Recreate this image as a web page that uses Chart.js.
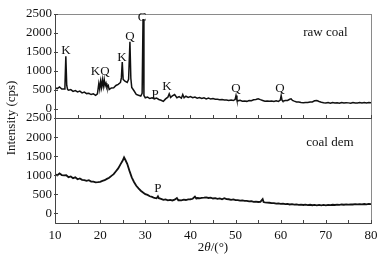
<!DOCTYPE html>
<html>
<head>
<meta charset="utf-8">
<script src="https://cdn.jsdelivr.net/npm/chart.js@4.4.0/dist/chart.umd.min.js"></script>
<style>
  body { margin: 0; background: #fff; }
  #wrap { position: relative; width: 386px; height: 260px; }
  canvas { position: absolute; left: 0; top: 0; }
</style>
</head>
<body>
<div id="wrap">
  <canvas id="demChart" width="386" height="260"></canvas>
  <canvas id="rawChart" width="386" height="260"></canvas>
</div>
<script>
// raw coal pattern (2 theta in degrees, intensity in cps)
const rawAngle = [
  10.0, 10.5, 11.0, 11.5, 12.0, 12.2, 12.4, 12.6, 12.8, 13.0, 13.5, 14.0, 14.5, 15.0, 15.5, 16.0,
  16.5, 17.0, 17.5, 18.0, 18.5, 19.0, 19.4, 19.7, 19.9, 20.1, 20.3, 20.5, 20.7, 20.9, 21.1, 21.3,
  21.5, 21.8, 22.0, 22.5, 23.0, 23.5, 24.0, 24.5, 24.7, 24.9, 25.1, 25.5, 26.0, 26.3, 26.6, 26.8,
  27.0, 27.5, 28.0, 28.5, 29.0, 29.3, 29.5, 29.7, 30.0, 30.5, 31.0, 31.5, 32.0, 32.5, 33.0, 33.5,
  34.0, 34.5, 35.0, 35.3, 35.6, 36.0, 36.5, 37.0, 37.5, 38.0, 38.3, 38.6, 39.0, 39.5, 40.0, 40.5,
  41.0, 41.5, 42.0, 42.5, 43.0, 43.5, 44.0, 44.5, 45.0, 45.5, 46.0, 46.5, 47.0, 47.5, 48.0, 48.5,
  49.0, 49.5, 49.9, 50.1, 50.3, 50.5, 51.0, 51.5, 52.0, 52.5, 53.0, 53.5, 54.0, 54.5, 55.0, 55.5,
  56.0, 56.5, 57.0, 57.5, 58.0, 58.5, 59.0, 59.5, 59.9, 60.1, 60.3, 60.5, 61.0, 61.5, 62.0, 62.3,
  62.6, 63.0, 63.5, 64.0, 64.5, 65.0, 65.5, 66.0, 66.5, 67.0, 67.5, 68.0, 68.5, 69.0, 69.5, 70.0,
  70.5, 71.0, 71.5, 72.0, 72.5, 73.0, 73.5, 74.0, 74.5, 75.0, 75.5, 76.0, 76.5, 77.0, 77.5, 78.0,
  78.5, 79.0, 79.5, 80.0
];
const rawCounts = [
  550, 525, 570, 515, 520, 580, 1380, 610, 500, 485, 500, 455, 475, 440, 460, 415,
  435, 395, 405, 370, 390, 350, 390, 660, 510, 720, 560, 760, 590, 770, 600, 670,
  560, 610, 505, 545, 550, 610, 640, 690, 810, 1230, 770, 725, 690, 770, 1765, 800,
  560, 470, 375, 350, 330, 400, 2370, 345, 285, 305, 265, 285, 255, 275, 240, 220,
  190, 255, 300, 390, 295, 335, 370, 285, 315, 275, 370, 285, 325, 295, 315, 285,
  305, 275, 290, 265, 285, 255, 275, 250, 262, 245, 248, 235, 240, 225, 228, 215,
  225, 212, 240, 345, 230, 205, 220, 195, 200, 190, 212, 205, 232, 240, 258, 235,
  215, 195, 200, 190, 200, 185, 205, 190, 222, 345, 215, 195, 212, 215, 245, 258,
  215, 195, 175, 172, 160, 155, 162, 158, 172, 175, 205, 213, 185, 168, 155, 150,
  160, 142, 162, 148, 155, 140, 158, 145, 155, 150, 142, 160, 148, 145, 158, 148,
  162, 145, 158, 150
];

// demineralised coal pattern
const demAngle = [
  10.0, 10.5, 11.0, 11.5, 12.0, 12.5, 13.0, 13.5, 14.0, 14.5, 15.0, 15.5, 16.0, 16.5, 17.0, 17.5,
  18.0, 18.5, 19.0, 19.5, 20.0, 20.5, 21.0, 21.5, 22.0, 22.5, 23.0, 23.5, 24.0, 24.5, 25.0, 25.3,
  25.6, 26.0, 26.5, 27.0, 27.5, 28.0, 28.5, 29.0, 29.5, 30.0, 30.5, 31.0, 31.5, 32.0, 32.5, 32.8,
  33.0, 33.5, 34.0, 34.5, 35.0, 35.5, 36.0, 36.5, 37.0, 37.3, 37.5, 38.0, 38.5, 39.0, 39.5, 40.0,
  40.5, 41.0, 41.3, 41.5, 42.0, 42.5, 43.0, 43.5, 44.0, 44.5, 45.0, 45.5, 46.0, 46.5, 47.0, 47.5,
  48.0, 48.5, 49.0, 49.5, 50.0, 50.5, 51.0, 51.5, 52.0, 52.5, 53.0, 53.5, 54.0, 54.5, 55.0, 55.5,
  56.0, 56.2, 56.5, 57.0, 57.5, 58.0, 58.5, 59.0, 59.5, 60.0, 60.5, 61.0, 61.5, 62.0, 62.5, 63.0,
  63.5, 64.0, 64.5, 65.0, 65.5, 66.0, 66.5, 67.0, 67.5, 68.0, 68.5, 69.0, 69.5, 70.0, 70.5, 71.0,
  71.5, 72.0, 72.5, 73.0, 73.5, 74.0, 74.5, 75.0, 75.5, 76.0, 76.5, 77.0, 77.5, 78.0, 78.5, 79.0,
  79.5, 80.0
];
const demCounts = [
  1030, 995, 1050, 1005, 995, 1000, 950, 970, 925, 945, 895, 915, 880, 875, 855, 870,
  835, 835, 815, 820, 830, 855, 870, 905, 935, 985, 1030, 1105, 1180, 1285, 1385, 1470,
  1400, 1300, 1115, 945, 825, 725, 655, 595, 550, 505, 485, 450, 435, 405, 395, 450,
  400, 380, 355, 370, 345, 355, 340, 360, 402, 345, 350, 345, 360, 352, 370, 372,
  385, 440, 390, 405, 398, 410, 412, 418, 405, 412, 392, 400, 382, 392, 372, 400,
  375, 372, 358, 368, 348, 350, 335, 340, 328, 330, 315, 322, 305, 312, 300, 305,
  376, 298, 290, 282, 280, 268, 270, 258, 262, 250, 255, 242, 248, 235, 242, 230,
  238, 225, 232, 222, 230, 220, 228, 215, 226, 214, 224, 212, 222, 212, 226, 218,
  228, 222, 232, 225, 235, 228, 238, 232, 240, 235, 242, 238, 246, 240, 248, 240,
  250, 245
];

const xTicks = [10, 20, 30, 40, 50, 60, 70, 80];
const xTickMarks = [10, 15, 20, 25, 30, 35, 40, 45, 50, 55, 60, 65, 70, 75, 80];
const yTicks = [0, 500, 1000, 1500, 2000, 2500];

// phase labels: K kaolinite, Q quartz, C calcite, P pyrite
const rawPeakText = ['K', 'KQ', 'K', 'Q', 'C', 'P', 'K', 'Q', 'Q', 'raw coal'];
const rawPeakAngle = [12.4, 20.0, 24.85, 26.6, 29.3, 32.2, 34.8, 50.1, 59.85, 69.9];
const rawPeakCounts = [1530, 975, 1335, 1890, 2395, 357, 570, 540, 540, 2000];
const demPeakText = ['P', 'coal dem'];
const demPeakAngle = [32.8, 70.9];
const demPeakCounts = [650, 1865];

const serif = '"Liberation Serif", "Times New Roman", serif';
const ink = '#111';

function toPoints(xs, ys) {
    return xs.map((v, i) => ({ x: v, y: ys[i] }));
}

function panelPlugin(texts, angles, counts, withTitles) {
    return {
        id: 'panel',
        afterDraw(chart) {
            const ctx = chart.ctx;
            const a = chart.chartArea;
            const sx = chart.scales.x;
            const sy = chart.scales.y;
            ctx.save();
            // frame
            ctx.lineWidth = 1;
            ctx.strokeStyle = '#8a8a8a';
            ctx.strokeRect(a.left + 0.5, a.top + 0.5, a.right - a.left, a.bottom - a.top);
            ctx.strokeStyle = '#444';
            ctx.beginPath();
            ctx.moveTo(a.left + 0.5, a.top);
            ctx.lineTo(a.left + 0.5, a.bottom + 0.5);
            ctx.lineTo(a.right + 1, a.bottom + 0.5);
            // inward tick marks
            xTickMarks.forEach(v => {
                const px = Math.round(sx.getPixelForValue(v)) + 0.5;
                ctx.moveTo(px, a.bottom);
                ctx.lineTo(px, a.bottom - 3);
            });
            yTicks.forEach(v => {
                const py = Math.round(sy.getPixelForValue(v)) + 0.5;
                ctx.moveTo(a.left - 1, py);
                ctx.lineTo(a.left + 3, py);
            });
            ctx.stroke();

            ctx.fillStyle = ink;
            ctx.font = '13px ' + serif;
            ctx.textAlign = 'center';
            ctx.textBaseline = 'middle';
            texts.forEach((t, i) => {
                ctx.fillText(t, sx.getPixelForValue(angles[i]), sy.getPixelForValue(counts[i]));
            });

            if (withTitles) {
                // x title: 2θ/(°)
                const parts = [['2', ''], ['θ', 'italic '], ['/(°)', '']];
                let total = 0;
                parts.forEach(p => { ctx.font = p[1] + '13px ' + serif; total += ctx.measureText(p[0]).width; });
                let cx = (a.left + a.right) / 2 - total / 2;
                ctx.textAlign = 'left';
                parts.forEach(p => {
                    ctx.font = p[1] + '13px ' + serif;
                    ctx.fillText(p[0], cx, 248);
                    cx += ctx.measureText(p[0]).width;
                });
                // y title spanning both panels
                ctx.font = '13px ' + serif;
                ctx.textAlign = 'center';
                ctx.translate(12, 118);
                ctx.rotate(-Math.PI / 2);
                ctx.fillText('Intensity (cps)', 0, 0);
            }
            ctx.restore();
        }
    };
}

function makePanel(id, points, lineWidth, padding, showX, plugin) {
    return new Chart(document.getElementById(id), {
        type: 'line',
        data: {
            datasets: [{
                data: points,
                borderColor: ink,
                borderWidth: lineWidth,
                pointRadius: 0,
                tension: 0,
                fill: false
            }]
        },
        options: {
            responsive: false,
            animation: false,
            devicePixelRatio: 1,
            layout: { padding: padding },
            plugins: { legend: { display: false }, tooltip: { enabled: false } },
            scales: {
                x: {
                    type: 'linear',
                    min: 10,
                    max: 80,
                    display: showX,
                    afterBuildTicks: s => { s.ticks = xTicks.map(v => ({ value: v })); },
                    afterFit: s => { s.height = showX ? 37 : 0; },
                    grid: { display: false, drawTicks: false },
                    border: { display: false },
                    ticks: { color: ink, padding: 5, maxRotation: 0, font: { family: serif, size: 13 } }
                },
                y: {
                    min: -250,
                    max: 2500,
                    afterBuildTicks: s => { s.ticks = yTicks.map(v => ({ value: v })); },
                    afterFit: s => { s.width = 55; },
                    grid: { display: false, drawTicks: false },
                    border: { display: false },
                    ticks: {
                        color: ink,
                        padding: 3,
                        font: { family: serif, size: 13 },
                        callback: v => String(v)
                    }
                }
            }
        },
        plugins: [plugin]
    });
}

makePanel('demChart', toPoints(demAngle, demCounts), 1.8, { left: 0, top: 118, right: 15, bottom: 0 }, true,
    panelPlugin(demPeakText, demPeakAngle, demPeakCounts, true));
makePanel('rawChart', toPoints(rawAngle, rawCounts), 1.5, { left: 0, top: 14, right: 15, bottom: 142 }, false,
    panelPlugin(rawPeakText, rawPeakAngle, rawPeakCounts, false));
</script>
</body>
</html>
